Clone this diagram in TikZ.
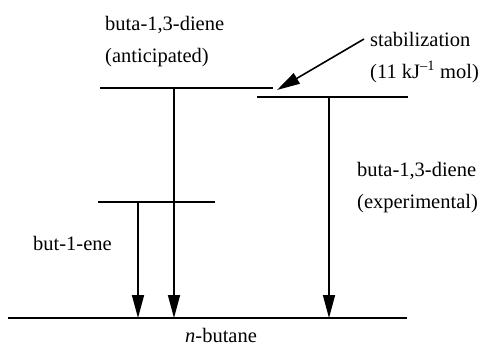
\documentclass[tikz,border=0pt]{standalone}
\usepackage{fontspec}
\setmainfont{Liberation Serif}
\usetikzlibrary{arrows.meta}
\tikzset{
  level/.style={line width=1.6pt},
  drop/.style={line width=1.6pt,-{Triangle[length=23pt,width=12pt]}},
  lbl/.style={anchor=base west,inner sep=0pt,align=left,font=\fontsize{20.5}{32}\selectfont}
}
\begin{document}
\begin{tikzpicture}[x=1pt,y=-1pt]
\useasboundingbox (0,0) rectangle (486,348);
% energy levels
\coordinate (n1) at (8,318);
\coordinate (n2) at (407,318);
\coordinate (e1) at (98,202);
\coordinate (e2) at (215,202);
\coordinate (a1) at (100,88);
\coordinate (a2) at (273,88);
\coordinate (x1) at (257,97);
\coordinate (x2) at (408,97);
\path[draw,level] (n1) -- (n2);
\path[draw,level] (e1) -- (e2);
\path[draw,level] (a1) -- (a2);
\path[draw,level] (x1) -- (x2);
% drops to n-butane
\coordinate (et) at (138,202);
\coordinate (eb) at (138,318);
\coordinate (at) at (174,88);
\coordinate (ab) at (174,318);
\coordinate (xt) at (329,97);
\coordinate (xb) at (329,318);
\path[draw,drop] (et) -- (eb);
\path[draw,drop] (at) -- (ab);
\path[draw,drop] (xt) -- (xb);
% stabilization
\coordinate (s1) at (364,39);
\coordinate (s2) at (277,90);
\path[draw,drop] (s1) -- (s2);
% labels (anchored at the last line)
\node[lbl] (ant) at (105,62) {buta-1,3-diene\\(anticipated)};
\node[lbl] (stab) at (370,78) {stabilization\\(11 kJ\textsuperscript{–1} mol)};
\node[lbl] (exp) at (357,208) {buta-1,3-diene\\(experimental)};
\node[lbl] (ene) at (33,250) {but-1-ene};
\node[lbl] (ane) at (185,342) {\textit{n}-butane};
\end{tikzpicture}
\end{document}
